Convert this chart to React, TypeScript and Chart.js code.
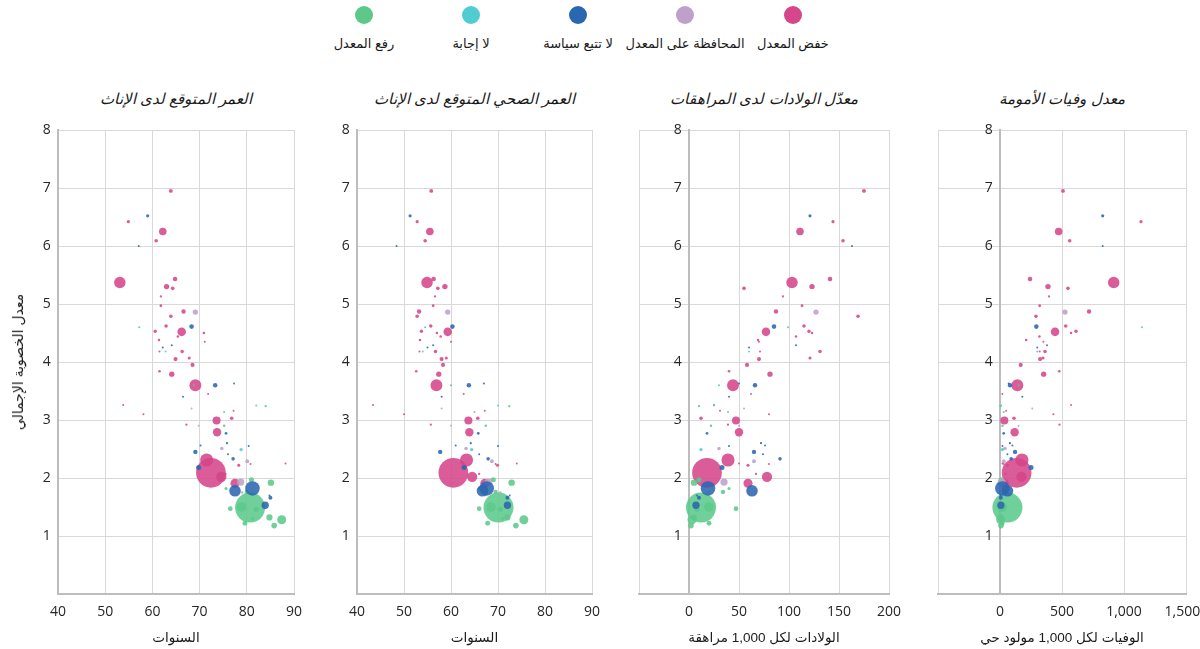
import React, { useEffect, useRef } from 'react';
import { Chart, registerables } from 'chart.js';

Chart.register(...registerables);

// ---------- Legend / categories ----------
const policyLabels = ['خفض المعدل', 'المحافظة على المعدل', 'لا تتبع سياسة', 'لا إجابة', 'رفع المعدل'];
const policyColors = ['#D5468A', '#BFA0CB', '#2B66B1', '#4FCDD3', '#5CC98B'];

// ---------- Panel texts ----------
const panelTitles = ['العمر المتوقع لدى الإناث', 'العمر الصحي المتوقع لدى الإناث', 'معدّل الولادات لدى المراهقات', 'معدل وفيات الأمومة'];
const xAxisTitles = ['السنوات', 'السنوات', 'الولادات لكل 1,000 مراهقة', 'الوفيات لكل 1,000 مولود حي'];
const yAxisTitle = 'معدل الخصوبة الإجمالي';
const xMins = [40, 40, -50, -500];
const xMaxs = [90, 90, 200, 1500];
const xSteps = [10, 10, 50, 500];
const yAxisAt = [40, 40, 0, 0];
const yMin = 0;
const yMax = 8;

// ---------- Country data (one entry per country, parallel arrays) ----------
// policy index: 0 lower, 1 maintain, 2 no policy, 3 no response, 4 raise
const policy = [
  0, 0, 0, 0, 0, 0, 0, 0, 0, 0,
  0, 0, 0, 0, 0, 0, 0, 0, 0, 0,
  0, 0, 0, 0, 0, 0, 0, 0, 0, 0,
  0, 0, 0, 0, 0, 0, 0, 0, 0, 0,
  0, 0, 0,
  1, 1, 1, 1, 1, 1, 1,
  2, 2, 2, 2, 2, 2, 2, 2, 2, 2,
  2, 2, 2, 2, 2, 2, 2, 2, 2, 2, 2,
  3, 3, 3,
  4, 4, 4, 4, 4, 4, 4, 4, 4, 4,
  4, 4, 4, 4, 4, 4, 4, 4,
];

const fertility = [
  6.95, 6.42, 6.25, 6.09, 5.37, 5.43, 5.30, 5.27, 5.13, 4.97,
  4.87, 4.79, 4.62, 4.52, 4.53, 4.50, 4.44, 4.38, 4.18, 4.18,
  4.05, 4.07, 3.95, 3.84, 3.79, 3.60, 3.45, 3.26, 3.16, 3.03,
  2.99, 2.92, 2.79, 2.22, 2.09, 2.31, 2.02, 1.91, 2.24, 2.07,
  4.35, 3.10, 2.25,
  4.86, 2.51, 2.29, 1.93, 2.90, 3.20, 1.75,
  6.52, 6.00, 4.61, 4.29, 3.60, 2.77, 2.45, 2.60, 2.56, 2.33,
  2.18, 1.82, 1.78, 1.66, 1.53, 2.41, 4.25, 3.40, 3.63, 2.55, 1.70,
  2.49, 4.18, 3.25,
  4.60, 3.24, 3.14, 2.90, 1.49, 1.28, 1.18, 1.92, 1.32, 1.22,
  1.50, 1.46, 1.97, 1.82, 1.30, 1.76, 1.47, 3.60,
];

const lifeExpectancy = [
  63.9, 54.9, 62.2, 60.8, 53.1, 64.8, 63.0, 64.3, 61.8, 61.8,
  66.6, 63.9, 62.9, 66.2, 60.6, 70.9, 65.4, 61.4, 66.3, 61.5,
  64.9, 67.8, 68.5, 61.5, 64.1, 69.1, 71.8, 53.8, 77.2, 76.8,
  73.6, 67.2, 73.7, 78.3, 72.4, 71.5, 74.6, 77.5, 80.8, 75.5,
  71.1, 58.1, 88.2,
  69.1, 74.7, 80.1, 78.7, 69.8, 68.3, 79.0,
  59.0, 57.1, 68.3, 64.1, 73.3, 75.6, 69.1, 75.8, 70.2, 77.1,
  69.8, 81.2, 77.5, 85.0, 83.9, 76.0, 62.2, 66.5, 77.3, 80.4, 84.8,
  78.8, 62.8, 82.0,
  57.2, 84.0, 75.2, 75.2, 80.7, 87.4, 85.8, 85.1, 84.8, 79.6,
  78.9, 82.0, 81.0, 75.6, 81.2, 80.0, 76.5, 68.8,
];

const healthyLifeExpectancy = [
  55.8, 52.8, 55.5, 54.5, 54.9, 56.3, 58.7, 57.2, 56.6, 56.2,
  53.2, 52.8, 55.7, 59.3, 53.7, 57.0, 57.8, 53.4, 56.7, 53.3,
  58.0, 59.0, 58.3, 52.6, 57.4, 56.9, 62.7, 43.4, 67.2, 65.7,
  63.7, 55.7, 63.9, 69.9, 60.5, 63.3, 64.5, 67.2, 69.5, 66.0,
  60.0, 50.0, 74.0,
  59.3, 63.2, 68.7, 68.0, 60.0, 58.0, 70.5,
  51.3, 48.4, 60.3, 56.2, 63.8, 65.8, 57.7, 64.2, 61.0, 67.9,
  62.8, 67.6, 66.7, 72.0, 72.0, 66.0, 55.0, 58.0, 67.0, 70.0, 72.5,
  64.4, 54.0, 70.0,
  54.5, 72.4, 65.0, 67.4, 70.1, 75.5, 73.8, 72.9, 72.0, 67.8,
  68.5, 70.5, 69.0, 66.0, 71.0, 69.5, 66.0, 60.0,
];

const adolescentBirthRate = [
  175, 144, 111, 154, 103, 141, 123, 55, 94, 113,
  87, 169, 115, 77, 120, 123, 107, 69, 131, 71,
  70, 121, 58, 40, 81, 44, 62, 25, 31, 12,
  47, 39, 50, 59, 18, 39, 78, 59, 80, 67,
  70, 80, 50,
  127, 30, 65, 35, 50, 55, 20,
  121, 163, 85, 107, 66, 18, 65, 72, 76, 91,
  33, 19, 63, 10, 7, 74, 60, 40, 50, 40, 8,
  12, 60, 25,
  99, 10, 39, 22, 12, 3, 2, 5, 5, 20,
  20, 8, 10, 40, 5, 34, 47, 30,
];

const maternalMortality = [
  508, 1137, 473, 562, 917, 242, 387, 548, 395, 320,
  718, 290, 530, 444, 613, 573, 318, 211, 363, 320,
  323, 347, 167, 478, 352, 140, 19, 573, 50, 113,
  35, 480, 118, 60, 134, 177, 173, 33, 30, 45,
  350, 430, 20,
  524, 40, 30, 17, 150, 260, 40,
  828, 828, 293, 379, 81, 30, 121, 80, 100, 90,
  250, 19, 60, 7, 7, 60, 300, 180, 70, 20, 5,
  19, 300, 10,
  1145, 3, 30, 20, 60, 5, 8, 6, 3, 17,
  17, 10, 8, 25, 5, 40, 30, 150,
];

// population in millions (bubble size)
const population = [
  24, 16, 90, 20, 206, 33, 46, 21, 8, 12,
  30, 20, 20, 115, 18, 10, 10, 10, 19, 6,
  26, 15, 27, 11, 44, 220, 3, 2, 5, 20,
  102, 8, 110, 15, 1380, 270, 165, 128, 5, 8,
  2, 1, 1,
  45, 20, 25, 84, 3, 1, 10,
  16, 5, 33, 5, 32, 12, 30, 8, 5, 20,
  40, 331, 212, 25, 83, 6, 2, 2, 1, 2, 6,
  18, 1, 1,
  2, 9, 3, 10, 1410, 126, 50, 65, 60, 38,
  144, 45, 40, 15, 20, 30, 35, 1,
];

const xSeries = [lifeExpectancy, healthyLifeExpectancy, adolescentBirthRate, maternalMortality];

// ---------- Helpers ----------
const FONT = "'Open Sans', 'DejaVu Sans', sans-serif";
const AR_FONT = "'Liberation Sans', 'DejaVu Sans', sans-serif";

function hexToRgba(hex: string, a: number) {
  const n = parseInt(hex.slice(1), 16);
  return `rgba(${(n >> 16) & 255},${(n >> 8) & 255},${n & 255},${a})`;
}

function radiusFor(pop: number) {
  return Math.max(1, 0.4 * Math.sqrt(pop));
}

function buildDatasets(xs: number[]) {
  const drawOrder = [3, 2, 1, 4, 0]; // first = drawn on top
  return drawOrder.map((p) => {
    const pts: { x: number; y: number; r: number }[] = [];
    for (let i = 0; i < fertility.length; i++) {
      if (policy[i] === p) pts.push({ x: xs[i], y: fertility[i], r: radiusFor(population[i]) });
    }
    pts.sort((a, b) => b.r - a.r);
    return {
      label: policyLabels[p],
      data: pts,
      backgroundColor: hexToRgba(policyColors[p], 0.88),
      borderWidth: 0,
      hoverBorderWidth: 0,
    };
  });
}

// canvas placement for the four panels; padL/padR place the plot area
const panelLayout = [
  { left: 0, width: 304, padL: 58, padR: 10, center: 176 },
  { left: 300, width: 302, padL: 57, padR: 10, center: 474.5 },
  { left: 629, width: 274, padL: 10, padR: 14, center: 764 },
  { left: 928, width: 272, padL: 10, padR: 14, center: 1062 },
];

const CANVAS_TOP = 120;
const CANVAS_H = 529;

function formatX(v: number, max: number) {
  if (v < 0) return '';
  const s = v.toLocaleString('en-US');
  // keep the widest right-edge label inside the page
  return v === max && max >= 1000 ? s + '  ' : s;
}

function Panel({ idx }: { idx: number }) {
  const ref = useRef<HTMLCanvasElement>(null);
  const lay = panelLayout[idx];
  useEffect(() => {
    const grid = { color: '#d9d9d9', lineWidth: 1, drawTicks: false };
    const border = { display: true, color: '#bdbdbd', width: 2 };
    const tickFont = { family: FONT, size: 14 };
    const chart = new Chart(ref.current as HTMLCanvasElement, {
      type: 'bubble',
      data: { datasets: buildDatasets(xSeries[idx]) as any },
      options: {
        responsive: false,
        animation: false,
        devicePixelRatio: 1,
        events: [],
        layout: { autoPadding: false, padding: { left: lay.padL, right: lay.padR, top: 10, bottom: 0 } },
        plugins: { legend: { display: false }, tooltip: { enabled: false }, title: { display: false } },
        scales: {
          x: {
            type: 'linear',
            min: xMins[idx],
            max: xMaxs[idx],
            grid,
            border,
            ticks: {
              stepSize: xSteps[idx],
              autoSkip: false,
              maxRotation: 0,
              padding: 10,
              color: '#262626',
              font: tickFont,
              callback: (v: any) => formatX(Number(v), xMaxs[idx]),
            },
            afterFit: (s: any) => {
              s.height = 55;
              s.paddingLeft = 0;
              s.paddingRight = 0;
            },
          },
          y: {
            type: 'linear',
            min: yMin,
            max: yMax,
            position: { x: yAxisAt[idx] } as any,
            grid,
            border,
            ticks: {
              stepSize: 1,
              color: '#262626',
              font: tickFont,
              // trailing spaces keep the right-aligned label clear of the axis line
              callback: (v: any) => (Number(v) === 0 ? '' : String(v) + '  '),
            },
            afterFit: (s: any) => {
              s.paddingTop = 0;
              s.paddingBottom = 0;
            },
          },
        },
      } as any,
    });
    return () => chart.destroy();
  }, [idx]);
  return (
    <canvas
      ref={ref}
      width={lay.width}
      height={CANVAS_H}
      style={{ position: 'absolute', left: lay.left, top: CANVAS_TOP, width: lay.width, height: CANVAS_H }}
    />
  );
}

const legendCenters = [793, 685, 578, 471, 364];

function centered(x: number, y: number, extra: React.CSSProperties = {}): React.CSSProperties {
  return {
    position: 'absolute',
    left: x,
    top: y,
    transform: 'translate(-50%, -50%)',
    whiteSpace: 'nowrap',
    ...extra,
  };
}

export default function App() {
  return (
    <div
      style={{
        position: 'fixed',
        left: 0,
        top: 0,
        width: 1200,
        height: 649,
        background: '#ffffff',
        overflow: 'hidden',
        fontFamily: AR_FONT,
        color: '#1a1a1a',
      }}
    >
      {policyLabels.map((lab, i) => (
        <React.Fragment key={lab}>
          <div
            style={{
              position: 'absolute',
              left: legendCenters[i] - 9,
              top: 6,
              width: 18,
              height: 18,
              borderRadius: '50%',
              background: policyColors[i],
            }}
          />
          <div dir="rtl" style={centered(legendCenters[i], 43, { fontSize: 13 })}>
            {lab}
          </div>
        </React.Fragment>
      ))}

      {panelTitles.map((t, i) => (
        <div key={t} dir="rtl" style={centered(panelLayout[i].center, 99, { fontSize: 15, fontStyle: 'italic' })}>
          {t}
        </div>
      ))}

      {[0, 1, 2, 3].map((i) => (
        <Panel key={i} idx={i} />
      ))}

      {xAxisTitles.map((t, i) => (
        <div key={i} dir="rtl" style={centered(panelLayout[i].center, 637, { fontSize: 13.5 })}>
          {t}
        </div>
      ))}

      <div dir="rtl" style={centered(18, 362, { fontSize: 14, transform: 'translate(-50%, -50%) rotate(-90deg)' })}>
        {yAxisTitle}
      </div>
    </div>
  );
}
